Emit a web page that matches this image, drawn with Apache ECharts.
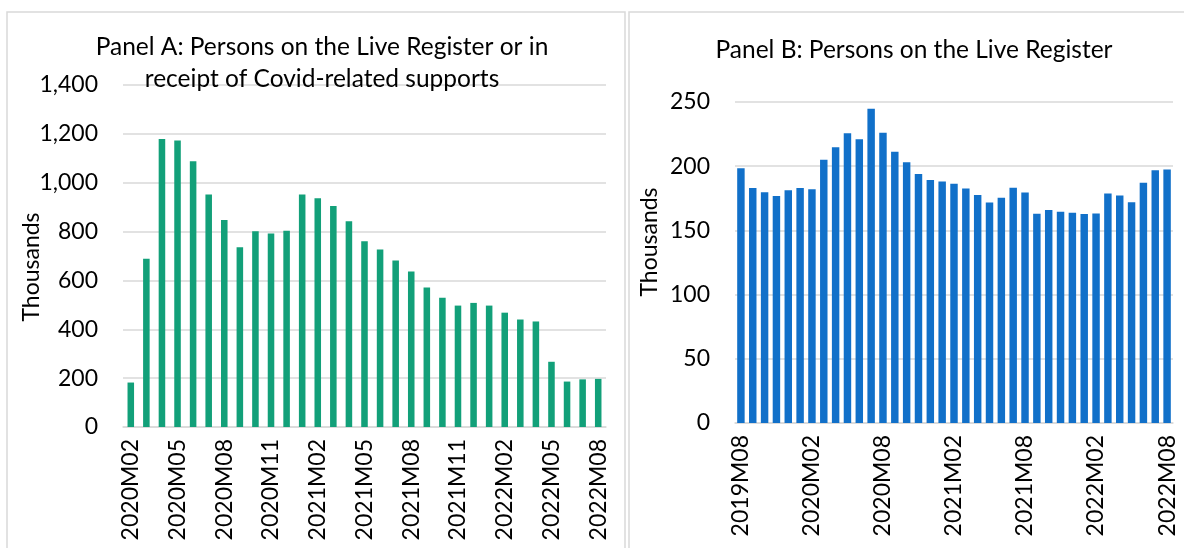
<!DOCTYPE html>
<html>
<head>
<meta charset="utf-8">
<script src="https://cdn.jsdelivr.net/npm/echarts@6/dist/echarts.min.js"></script>
<style>
  html, body { margin: 0; padding: 0; background: #fff; }
  #chart { width: 1184px; height: 548px; }
</style>
</head>
<body>
<div id="chart"></div>
<script>
// Panel A: Live Register or Covid-related supports, thousands, 2020M02–2022M08
const monthsA = [
  '2020M02','2020M03','2020M04','2020M05','2020M06','2020M07','2020M08','2020M09','2020M10','2020M11','2020M12',
  '2021M01','2021M02','2021M03','2021M04','2021M05','2021M06','2021M07','2021M08','2021M09','2021M10','2021M11','2021M12',
  '2022M01','2022M02','2022M03','2022M04','2022M05','2022M06','2022M07','2022M08'
];
const valuesA = [
  182, 689, 1179, 1173, 1088, 952, 847, 736, 801, 792, 803,
  952, 936, 905, 842, 760, 727, 682, 637, 571, 529, 497, 508,
  497, 468, 440, 432, 267, 186, 195, 197
];

// Panel B: Live Register, thousands, 2019M08–2022M08
const monthsB = [
  '2019M08','2019M09','2019M10','2019M11','2019M12',
  '2020M01','2020M02','2020M03','2020M04','2020M05','2020M06','2020M07','2020M08','2020M09','2020M10','2020M11','2020M12',
  '2021M01','2021M02','2021M03','2021M04','2021M05','2021M06','2021M07','2021M08','2021M09','2021M10','2021M11','2021M12',
  '2022M01','2022M02','2022M03','2022M04','2022M05','2022M06','2022M07','2022M08'
];
const valuesB = [
  198.5, 183.0, 179.8, 176.8, 181.2,
  183.0, 182.0, 205.0, 214.7, 225.7, 221.0, 244.8, 226.0, 211.3, 203.0, 194.0, 189.3,
  188.0, 186.4, 182.7, 177.5, 171.8, 175.4, 183.2, 179.5, 163.0, 165.8, 164.5, 163.7,
  162.7, 163.2, 178.7, 177.2, 172.0, 187.2, 196.9, 197.4
];

const yTicksA = { min: 0, max: 1400, interval: 200 };
const yTicksB = { min: 0, max: 250, interval: 50 };

const FONT = 'Lato, "Open Sans", sans-serif';
const GRID_GREY = '#d9d9d9';
const TEXT = '#000';

const chart = echarts.init(document.getElementById('chart'), null, { renderer: 'canvas' });

const fmt = v => v.toLocaleString('en-US');

function xAxis(gridIndex, data, interval) {
  return {
    type: 'category', gridIndex, data,
    axisTick: { show: false },
    axisLine: { lineStyle: { color: GRID_GREY, width: 1.5 } },
    axisLabel: {
      interval, rotate: 90, margin: 12,
      fontFamily: FONT, fontSize: 23, color: TEXT
    }
  };
}
function yAxis(gridIndex, t) {
  return {
    type: 'value', gridIndex, min: t.min, max: t.max, interval: t.interval,
    axisLine: { show: false }, axisTick: { show: false },
    splitLine: { lineStyle: { color: GRID_GREY, width: 1.5 } },
    axisLabel: { formatter: fmt, margin: 25, fontFamily: FONT, fontSize: 23, color: TEXT }
  };
}

chart.setOption({
  animation: false,
  backgroundColor: '#fff',
  graphic: [
    { type: 'rect', shape: { x: 7, y: 12, width: 618, height: 600 },
      style: { fill: 'none', stroke: GRID_GREY, lineWidth: 1.5 } },
    { type: 'rect', shape: { x: 629, y: 12, width: 600, height: 600 },
      style: { fill: 'none', stroke: GRID_GREY, lineWidth: 1.5 } },
    { type: 'text', x: 32, y: 267, rotation: Math.PI / 2,
      style: { text: 'Thousands', fontFamily: FONT, fontSize: 23, fill: TEXT,
               align: 'center', verticalAlign: 'middle' } },
    { type: 'text', x: 650, y: 242, rotation: Math.PI / 2,
      style: { text: 'Thousands', fontFamily: FONT, fontSize: 23, fill: TEXT,
               align: 'center', verticalAlign: 'middle' } }
  ],
  title: [
    { text: 'Panel A: Persons on the Live Register or in\nreceipt of Covid-related supports',
      left: 317, top: 26, textAlign: 'center',
      textStyle: { fontFamily: FONT, fontSize: 24.5, fontWeight: 'normal', color: TEXT, lineHeight: 32 } },
    { text: 'Panel B: Persons on the Live Register',
      left: 909, top: 33, textAlign: 'center',
      textStyle: { fontFamily: FONT, fontSize: 24.5, fontWeight: 'normal', color: TEXT } }
  ],
  grid: [
    { left: 123, top: 85, width: 483, height: 342 },
    { left: 735, top: 102, width: 438, height: 321 }
  ],
  xAxis: [ xAxis(0, monthsA, 2), xAxis(1, monthsB, 5) ],
  yAxis: [ yAxis(0, yTicksA), yAxis(1, yTicksB) ],
  series: [
    { type: 'bar', xAxisIndex: 0, yAxisIndex: 0, data: valuesA,
      barCategoryGap: '58%', itemStyle: { color: '#12A079' } },
    { type: 'bar', xAxisIndex: 1, yAxisIndex: 1, data: valuesB,
      barCategoryGap: '37%', itemStyle: { color: '#1170C9' } }
  ]
});
</script>
</body>
</html>
